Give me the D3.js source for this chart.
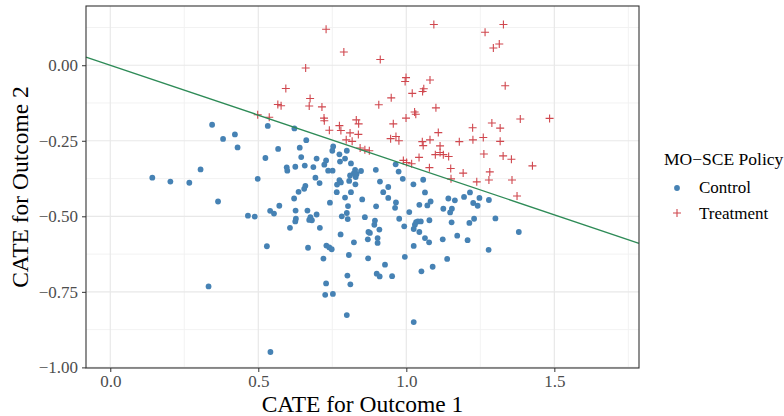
<!DOCTYPE html>
<html>
<head>
<meta charset="utf-8">
<script src="https://cdn.jsdelivr.net/npm/d3@7"></script>
<style>
  body { margin: 0; background: #fff; }
  text { font-family: "Liberation Serif", "DejaVu Serif", serif; }
</style>
</head>
<body>
<div class="canvas"></div>
<script>
// control units (blue dots): [CATE outcome 1, CATE outcome 2]
const controlX = [0.344,0.421,0.381,0.430,0.532,0.567,0.524,0.305,0.142,0.203,0.267,0.498,0.364,0.465,0.488,0.540,0.553,0.571,0.529,0.622,
  0.662,0.753,0.750,0.799,0.774,0.640,0.645,0.697,0.729,0.793,0.776,0.813,0.596,0.598,0.625,0.657,0.686,0.723,0.736,0.751,
  0.827,0.847,0.823,0.810,0.832,0.897,0.807,0.829,0.693,0.707,0.774,0.779,0.766,0.828,0.911,0.659,0.655,0.636,0.765,0.813,
  0.621,0.793,0.851,0.742,0.803,0.898,0.626,0.666,0.799,0.697,0.964,0.974,0.988,0.939,0.922,1.024,1.057,0.939,1.063,1.082,
  1.071,1.044,0.965,0.962,1.010,1.142,1.164,1.195,1.215,1.125,1.154,1.148,1.226,1.241,0.627,0.625,0.676,0.681,0.672,0.607,
  0.708,0.782,0.802,0.860,0.894,0.892,0.909,0.778,0.872,0.877,0.870,0.823,0.903,0.903,0.668,0.730,0.740,0.748,0.720,0.806,
  0.871,0.900,0.910,0.801,0.729,0.811,0.976,0.993,1.033,1.039,1.049,1.029,1.025,1.044,1.078,1.153,1.213,1.229,1.063,1.077,
  1.123,1.172,1.207,1.025,0.995,0.928,0.952,1.051,1.089,1.138,1.247,1.279,1.301,1.380,1.278,0.332,0.541,0.726,0.752,0.799,1.025]
const controlY = [-0.197,-0.229,-0.244,-0.272,-0.201,-0.277,-0.307,-0.345,-0.372,-0.385,-0.389,-0.376,-0.451,-0.498,-0.501,-0.482,-0.491,-0.465,-0.599,-0.209,
  -0.248,-0.269,-0.283,-0.283,-0.295,-0.273,-0.304,-0.309,-0.315,-0.309,-0.319,-0.325,-0.338,-0.349,-0.336,-0.332,-0.337,-0.329,-0.349,-0.349,
  -0.346,-0.350,-0.357,-0.365,-0.360,-0.346,-0.383,-0.370,-0.372,-0.390,-0.380,-0.388,-0.395,-0.394,-0.385,-0.399,-0.409,-0.419,-0.420,-0.420,
  -0.441,-0.438,-0.444,-0.455,-0.466,-0.467,-0.481,-0.481,-0.489,-0.494,-0.328,-0.352,-0.376,-0.403,-0.420,-0.394,-0.379,-0.439,-0.421,-0.451,
  -0.464,-0.462,-0.454,-0.472,-0.486,-0.441,-0.447,-0.436,-0.421,-0.475,-0.475,-0.487,-0.456,-0.465,-0.508,-0.517,-0.503,-0.513,-0.512,-0.538,
  -0.538,-0.500,-0.509,-0.503,-0.514,-0.528,-0.544,-0.560,-0.552,-0.555,-0.576,-0.586,-0.572,-0.588,-0.604,-0.597,-0.603,-0.609,-0.640,-0.628,
  -0.639,-0.690,-0.699,-0.696,-0.722,-0.725,-0.508,-0.533,-0.519,-0.517,-0.517,-0.528,-0.542,-0.552,-0.513,-0.520,-0.522,-0.508,-0.572,-0.586,
  -0.576,-0.564,-0.579,-0.598,-0.634,-0.660,-0.698,-0.682,-0.667,-0.641,-0.439,-0.446,-0.507,-0.552,-0.611,-0.732,-0.949,-0.760,-0.757,-0.827,-0.850]

// treated units (red crosses)
const treatX = [0.498,0.537,0.566,0.577,0.729,1.093,0.789,0.912,0.660,0.593,0.999,0.996,1.080,1.059,1.055,1.020,0.675,0.672,0.715,0.907,
  0.949,1.100,1.028,1.032,0.999,0.722,0.723,0.956,0.831,0.839,0.774,0.779,0.740,0.810,0.838,0.797,0.817,0.947,0.965,0.975,
  1.108,1.080,1.054,1.328,1.266,1.314,1.294,1.334,1.385,1.484,1.289,1.224,1.317,1.260,1.225,1.179,1.317,0.844,0.860,0.875,
  1.057,1.114,1.098,1.114,1.125,1.143,1.043,0.990,1.001,1.018,1.078,1.150,1.192,1.151,1.238,1.262,1.327,1.355,1.426,1.282,
  1.279,1.357,1.374]
const treatY = [-0.164,-0.172,-0.130,-0.134,0.119,0.135,0.044,0.019,-0.009,-0.077,-0.041,-0.054,-0.049,-0.078,-0.087,-0.093,-0.110,-0.135,-0.138,-0.131,
  -0.108,-0.141,-0.155,-0.162,-0.175,-0.175,-0.184,-0.194,-0.181,-0.194,-0.200,-0.216,-0.215,-0.224,-0.229,-0.247,-0.252,-0.243,-0.236,-0.250,
  -0.223,-0.247,-0.253,0.135,0.109,0.070,0.057,-0.068,-0.178,-0.176,-0.191,-0.207,-0.208,-0.239,-0.247,-0.253,-0.252,-0.274,-0.280,-0.283,
  -0.266,-0.267,-0.296,-0.289,-0.296,-0.302,-0.305,-0.315,-0.322,-0.326,-0.339,-0.342,-0.357,-0.376,-0.386,-0.294,-0.300,-0.311,-0.333,-0.353,
  -0.380,-0.380,-0.433]

// decision boundary
const lineIntercept = 0
const lineSlope = -0.33

const xTicks = [0.0, 0.5, 1.0, 1.5]
const yTicks = [0.00, -0.25, -0.50, -0.75, -1.00]
const xMinor = [0.25, 0.75, 1.25, 1.75]
const yMinor = [0.125, -0.125, -0.375, -0.625, -0.875]

const width = 784
const height = 416
const margin = { top: 6, right: 145, bottom: 48, left: 86 }
const graphWidth = width - margin.left - margin.right
const graphHeight = height - margin.top - margin.bottom

const svg = d3.select('.canvas').append('svg')
  .attr('width', width)
  .attr('height', height)

const graph = svg.append('g')
  .attr('transform', `translate(${margin.left}, ${margin.top})`)

const x = d3.scaleLinear().domain([-0.082, 1.786]).range([0, graphWidth])
const y = d3.scaleLinear().domain([-1.002, 0.196]).range([graphHeight, 0])

// grid
graph.selectAll('.vminor').data(xMinor).enter().append('line')
  .attr('x1', d => x(d)).attr('x2', d => x(d))
  .attr('y1', 0).attr('y2', graphHeight)
  .attr('stroke', '#f0f0f0').attr('stroke-width', 0.9)
graph.selectAll('.hminor').data(yMinor).enter().append('line')
  .attr('y1', d => y(d)).attr('y2', d => y(d))
  .attr('x1', 0).attr('x2', graphWidth)
  .attr('stroke', '#f0f0f0').attr('stroke-width', 0.9)
graph.selectAll('.vmajor').data(xTicks).enter().append('line')
  .attr('x1', d => x(d)).attr('x2', d => x(d))
  .attr('y1', 0).attr('y2', graphHeight)
  .attr('stroke', '#e8e8e8').attr('stroke-width', 1.2)
graph.selectAll('.hmajor').data(yTicks).enter().append('line')
  .attr('y1', d => y(d)).attr('y2', d => y(d))
  .attr('x1', 0).attr('x2', graphWidth)
  .attr('stroke', '#e8e8e8').attr('stroke-width', 1.2)

// points
const control = controlX.map((v, i) => ({ x: v, y: controlY[i] }))
const treat = treatX.map((v, i) => ({ x: v, y: treatY[i] }))

graph.selectAll('circle').data(control).enter().append('circle')
  .attr('cx', d => x(d.x))
  .attr('cy', d => y(d.y))
  .attr('r', 2.9)
  .attr('fill', '#4682b4')

graph.selectAll('.trt').data(treat).enter().append('path')
  .attr('class', 'trt')
  .attr('d', 'M-4,0H4M0,-4V4')
  .attr('transform', d => `translate(${x(d.x)},${y(d.y)})`)
  .attr('stroke', '#d0474e')
  .attr('stroke-width', 1.1)
  .attr('fill', 'none')

// boundary line
const x0 = x.domain()[0], x1 = x.domain()[1]
graph.append('line')
  .attr('x1', x(x0)).attr('y1', y(lineIntercept + lineSlope * x0))
  .attr('x2', x(x1)).attr('y2', y(lineIntercept + lineSlope * x1))
  .attr('stroke', '#2e8b57')
  .attr('stroke-width', 1.4)

// panel border
graph.append('rect')
  .attr('width', graphWidth).attr('height', graphHeight)
  .attr('fill', 'none').attr('stroke', '#333').attr('stroke-width', 1.1)

// axes
const xAxis = d3.axisBottom(x).tickValues(xTicks).tickFormat(d3.format('.1f')).tickSize(4).tickPadding(3)
const yAxis = d3.axisLeft(y).tickValues(yTicks).tickFormat(d => d3.format('.2f')(d).replace('-', '\u2212')).tickSize(4).tickPadding(4)

const xAxisGroup = graph.append('g').attr('transform', `translate(0,${graphHeight})`).call(xAxis)
const yAxisGroup = graph.append('g').call(yAxis)
;[xAxisGroup, yAxisGroup].forEach(g => {
  g.attr('font-family', null)
  g.select('.domain').remove()
  g.selectAll('line').attr('stroke', '#333')
  g.selectAll('text').attr('fill', '#4d4d4d').style('font-size', '17px')
    .style('font-family', '"Liberation Serif", serif')
})

// axis titles
svg.append('text')
  .attr('x', margin.left + graphWidth / 2).attr('y', 412)
  .attr('text-anchor', 'middle').style('font-size', '23.5px')
  .text('CATE for Outcome 1')
svg.append('text')
  .attr('transform', `translate(28,${margin.top + graphHeight / 2}) rotate(-90)`)
  .attr('text-anchor', 'middle').style('font-size', '23.5px')
  .text('CATE for Outcome 2')

// legend
const legend = svg.append('g').attr('transform', 'translate(664,0)')
legend.append('text').attr('x', 0).attr('y', 165).style('font-size', '17.5px').text('MO\u2212SCE Policy')
legend.append('circle').attr('cx', 13).attr('cy', 188).attr('r', 2.9).attr('fill', '#4682b4')
legend.append('text').attr('x', 35).attr('y', 193).style('font-size', '17px').text('Control')
legend.append('path').attr('d', 'M-4,0H4M0,-4V4').attr('transform', 'translate(13,213)')
  .attr('stroke', '#d0474e').attr('stroke-width', 1.1)
legend.append('text').attr('x', 35).attr('y', 219).style('font-size', '17px').text('Treatment')
</script>
</body>
</html>
